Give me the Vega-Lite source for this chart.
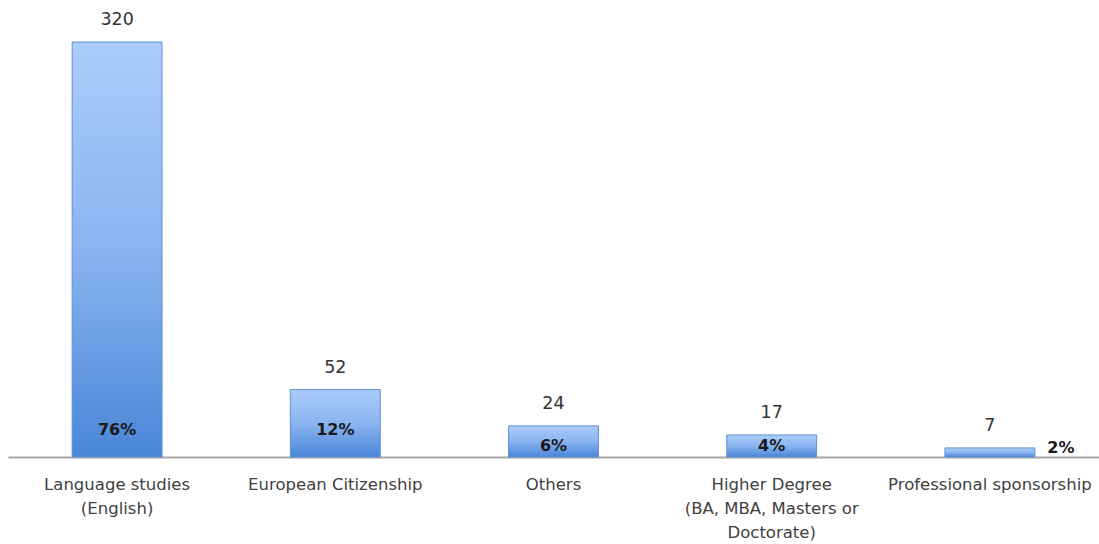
{
  "$schema": "https://vega.github.io/schema/vega-lite/v6.json",
  "autosize": "none",
  "padding": {"left": 8, "top": 0, "right": 0, "bottom": 87},
  "width": 1091,
  "height": 457,
  "background": "white",
  "config": {"view": {"stroke": null}, "font": "DejaVu Sans"},
  "data": {"values": [
    {"cat": "Language studies|(English)", "value": 320, "pct": "76%"},
    {"cat": "European Citizenship", "value": 52, "pct": "12%"},
    {"cat": "Others", "value": 24, "pct": "6%"},
    {"cat": "Higher Degree|(BA, MBA, Masters or|Doctorate)", "value": 17, "pct": "4%"},
    {"cat": "Professional sponsorship", "value": 7, "pct": "2%"}
  ]},
  "encoding": {
    "x": {"field": "cat", "type": "nominal", "sort": null,
      "scale": {"paddingInner": 0.588, "paddingOuter": 0.294},
      "axis": {"title": null, "labelAngle": 0, "ticks": false, "domainColor": "#a6a6a6", "domainWidth": 2,
        "labelExpr": "split(datum.value, '|')", "labelLineHeight": 24, "labelFontSize": 16.5, "labelColor": "#404040",
        "labelPadding": 19, "labelFont": "DejaVu Sans", "labelLimit": 0}},
    "y": {"field": "value", "type": "quantitative", "scale": {"domain": [0, 352.4], "nice": false}, "axis": null}
  },
  "layer": [
    {"mark": {"type": "bar", "stroke": "#5f90d2", "strokeWidth": 1,
      "color": {"gradient": "linear", "x1": 0, "y1": 0, "x2": 0, "y2": 1,
        "stops": [{"offset": 0, "color": "#acccfa"}, {"offset": 0.5, "color": "#8ab4f0"}, {"offset": 1, "color": "#4a86d8"}]}}},
    {"mark": {"type": "text", "dy": -22, "baseline": "middle", "fontSize": 17.5, "color": "#333333"},
      "encoding": {"text": {"field": "value"}}},
    {"transform": [{"filter": "datum.value > 50"}],
      "mark": {"type": "text", "baseline": "middle", "fontSize": 16, "fontWeight": "bold", "color": "#1a1a1a"},
      "encoding": {"y": {"datum": 20.5}, "text": {"field": "pct"}}},
    {"transform": [{"filter": "datum.value > 10 && datum.value < 50"}],
      "mark": {"type": "text", "baseline": "middle", "fontSize": 16, "fontWeight": "bold", "color": "#1a1a1a"},
      "encoding": {"y": {"datum": 8.5}, "text": {"field": "pct"}}},
    {"transform": [{"filter": "datum.value < 10"}],
      "mark": {"type": "text", "baseline": "middle", "fontSize": 16, "fontWeight": "bold", "color": "#1a1a1a", "dx": 71},
      "encoding": {"y": {"datum": 7}, "text": {"field": "pct"}}}
  ]
}
